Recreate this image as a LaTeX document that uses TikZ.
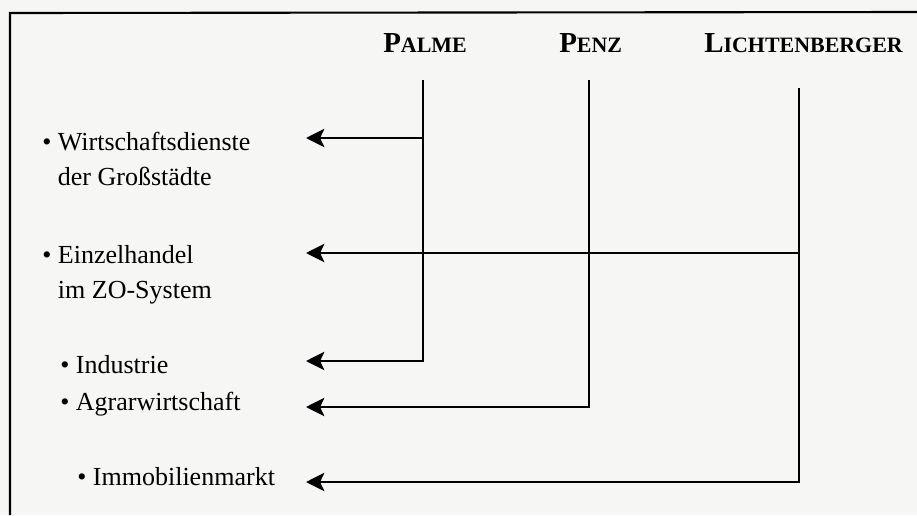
\documentclass[tikz,border=0pt]{standalone}
\usepackage{fontspec}
\setmainfont{Liberation Serif}
\usetikzlibrary{arrows.meta}
\definecolor{papier}{RGB}{246,246,244}
\tikzstyle{head} = [anchor=base west, inner sep=0pt, font=\bfseries]
\tikzstyle{item} = [anchor=base west, inner sep=0pt, align=left, font=\fontsize{18.5}{24.8}\selectfont]
\tikzstyle{frame} = [line width=1.5pt]
\tikzstyle{arrow} = [line width=2pt,->,>={Stealth[length=13pt,width=13pt,inset=3pt]}]
\newcommand{\kap}[2]{{\fontsize{20.6}{24}\selectfont #1}{\fontsize{15.6}{18}\selectfont #2}}

\begin{document}
\begin{tikzpicture}[x=0.025cm,y=-0.025cm]
  \fill [papier] (0,0) rectangle (917,515);
  \useasboundingbox (0,0) rectangle (917,515);
  \draw [frame] (917,12) -- (10,13) -- (10,515);

  \node (palme) [head] at (383,52) {\kap{P}{ALME}};
  \node (penz) [head] at (559,52) {\kap{P}{ENZ}};
  \node (licht) [head] at (704,52) {\kap{L}{ICHTENBERGER}};

  % zweizeilige Knoten: base = letzte Zeile
  \node (wirt) [item] at (42,185) {\textbullet~Wirtschaftsdienste\\\phantom{\textbullet~}der Großstädte};
  \node (einz) [item] at (42,298) {\textbullet~Einzelhandel\\\phantom{\textbullet~}im ZO-System};
  \node (ind) [item] at (60,373) {\textbullet~Industrie};
  \node (agrar) [item] at (60,410) {\textbullet~Agrarwirtschaft};
  \node (immo) [item] at (77,485) {\textbullet~Immobilienmarkt};

  \coordinate (palmetop) at (423,80);
  \coordinate (penztop) at (589,80);
  \coordinate (lichttop) at (799,88);
  \coordinate (zuwirt) at (306,138);
  \coordinate (zueinz) at (306,253);
  \coordinate (zuind) at (306,361);
  \coordinate (zuagrar) at (306,407);
  \coordinate (zuimmo) at (306,482);

  \draw [arrow] (palmetop) |- (zuind);
  \draw [arrow] (palmetop |- zuwirt) -- (zuwirt);
  \draw [arrow] (penztop) |- (zuagrar);
  \draw [arrow] (lichttop) |- (zuimmo);
  \draw [arrow] (lichttop |- zueinz) -- (zueinz);
\end{tikzpicture}
\end{document}
